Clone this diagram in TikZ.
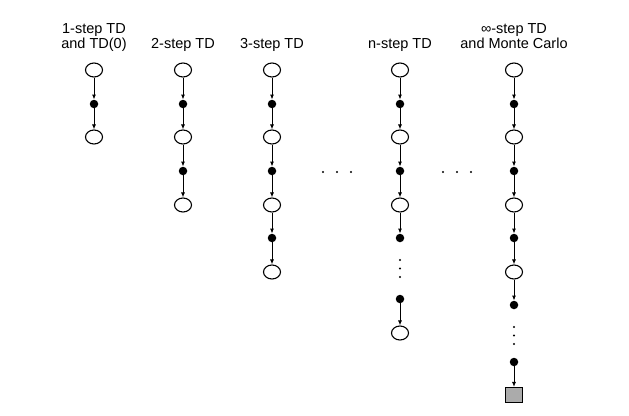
\documentclass[tikz,border=0pt]{standalone}
\usepackage{fontspec}
\setmainfont{Liberation Sans}
\usetikzlibrary{arrows.meta,shapes.geometric}
\begin{document}
\begin{tikzpicture}[x=1pt,y=-1pt,
        >={Latex[length=5pt,width=4pt]},
        statenode/.style={draw,ellipse,line width=1.1pt,minimum width=17pt,minimum height=14pt,inner sep=0pt},
        actnode/.style={fill,circle,minimum size=8.5pt,inner sep=0pt},
        termnode/.style={draw,line width=1.1pt,fill=black!33,minimum width=17pt,minimum height=15pt,inner sep=0pt},
        edge/.style={->,line width=0.9pt},
        smalldot/.style={fill,circle,minimum size=2.4pt,inner sep=0pt},
        title/.style={align=center,font=\fontsize{14.5}{15}\selectfont,inner sep=0pt,anchor=base}]
        \useasboundingbox (0,0) rectangle (629,415);

        % Titles
        \node[title] (T1) at (94,48) {1-step TD\\and TD(0)};
        \node[title] (T2) at (183,48) {2-step TD};
        \node[title] (T3) at (272,48) {3-step TD};
        \node[title] (Tn) at (400,48) {n-step TD};
        \node[title] (Ti) at (514,48) {∞-step TD\\and Monte Carlo};

        % Nodes for 1-step TD
        \node[statenode] (Sa0) at (94,70) {};
        \node[actnode] (Aa0) at (94,104) {};
        \node[statenode] (Sa1) at (94,137) {};
        \draw[edge] (Sa0) -- (Aa0);
        \draw[edge] (Aa0) -- (Sa1);

        % Nodes for 2-step TD
        \node[statenode] (Sb0) at (183,70) {};
        \node[actnode] (Ab0) at (183,104) {};
        \node[statenode] (Sb1) at (183,137) {};
        \node[actnode] (Ab1) at (183,171) {};
        \node[statenode] (Sb2) at (183,205) {};
        \draw[edge] (Sb0) -- (Ab0);
        \draw[edge] (Ab0) -- (Sb1);
        \draw[edge] (Sb1) -- (Ab1);
        \draw[edge] (Ab1) -- (Sb2);

        % Nodes for 3-step TD
        \node[statenode] (Sc0) at (272,70) {};
        \node[actnode] (Ac0) at (272,104) {};
        \node[statenode] (Sc1) at (272,137) {};
        \node[actnode] (Ac1) at (272,171) {};
        \node[statenode] (Sc2) at (272,205) {};
        \node[actnode] (Ac2) at (272,238) {};
        \node[statenode] (Sc3) at (272,272) {};
        \draw[edge] (Sc0) -- (Ac0);
        \draw[edge] (Ac0) -- (Sc1);
        \draw[edge] (Sc1) -- (Ac1);
        \draw[edge] (Ac1) -- (Sc2);
        \draw[edge] (Sc2) -- (Ac2);
        \draw[edge] (Ac2) -- (Sc3);

        % Nodes for n-step TD
        \node[statenode] (Sn0) at (400,70) {};
        \node[actnode] (An0) at (400,104) {};
        \node[statenode] (Sn1) at (400,137) {};
        \node[actnode] (An1) at (400,171) {};
        \node[statenode] (Sn2) at (400,205) {};
        \node[actnode] (An2) at (400,238) {};
        \node[smalldot] (Vn0) at (400,260) {};
        \node[smalldot] (Vn1) at (400,268.5) {};
        \node[smalldot] (Vn2) at (400,277) {};
        \node[actnode] (An3) at (400,299) {};
        \node[statenode] (Sn3) at (400,333) {};
        \draw[edge] (Sn0) -- (An0);
        \draw[edge] (An0) -- (Sn1);
        \draw[edge] (Sn1) -- (An1);
        \draw[edge] (An1) -- (Sn2);
        \draw[edge] (Sn2) -- (An2);
        \draw[edge] (An3) -- (Sn3);

        % Nodes for infinite-step TD
        \node[statenode] (Si0) at (514,70) {};
        \node[actnode] (Ai0) at (514,104) {};
        \node[statenode] (Si1) at (514,137) {};
        \node[actnode] (Ai1) at (514,171) {};
        \node[statenode] (Si2) at (514,205) {};
        \node[actnode] (Ai2) at (514,238) {};
        \node[statenode] (Si3) at (514,272) {};
        \node[actnode] (Ai3) at (514,305) {};
        \node[smalldot] (Vi0) at (514,327) {};
        \node[smalldot] (Vi1) at (514,335.5) {};
        \node[smalldot] (Vi2) at (514,344) {};
        \node[actnode] (Ai4) at (514,362) {};
        \node[termnode] (Ti0) at (514,395) {};
        \draw[edge] (Si0) -- (Ai0);
        \draw[edge] (Ai0) -- (Si1);
        \draw[edge] (Si1) -- (Ai1);
        \draw[edge] (Ai1) -- (Si2);
        \draw[edge] (Si2) -- (Ai2);
        \draw[edge] (Ai2) -- (Si3);
        \draw[edge] (Si3) -- (Ai3);
        \draw[edge] (Ai4) -- (Ti0);

        % Horizontal dots between columns
        \node[smalldot] (Ha0) at (323,172) {};
        \node[smalldot] (Ha1) at (337,172) {};
        \node[smalldot] (Ha2) at (351,172) {};
        \node[smalldot] (Hb0) at (443,172) {};
        \node[smalldot] (Hb1) at (457,172) {};
        \node[smalldot] (Hb2) at (471,172) {};

\end{tikzpicture}
\end{document}
